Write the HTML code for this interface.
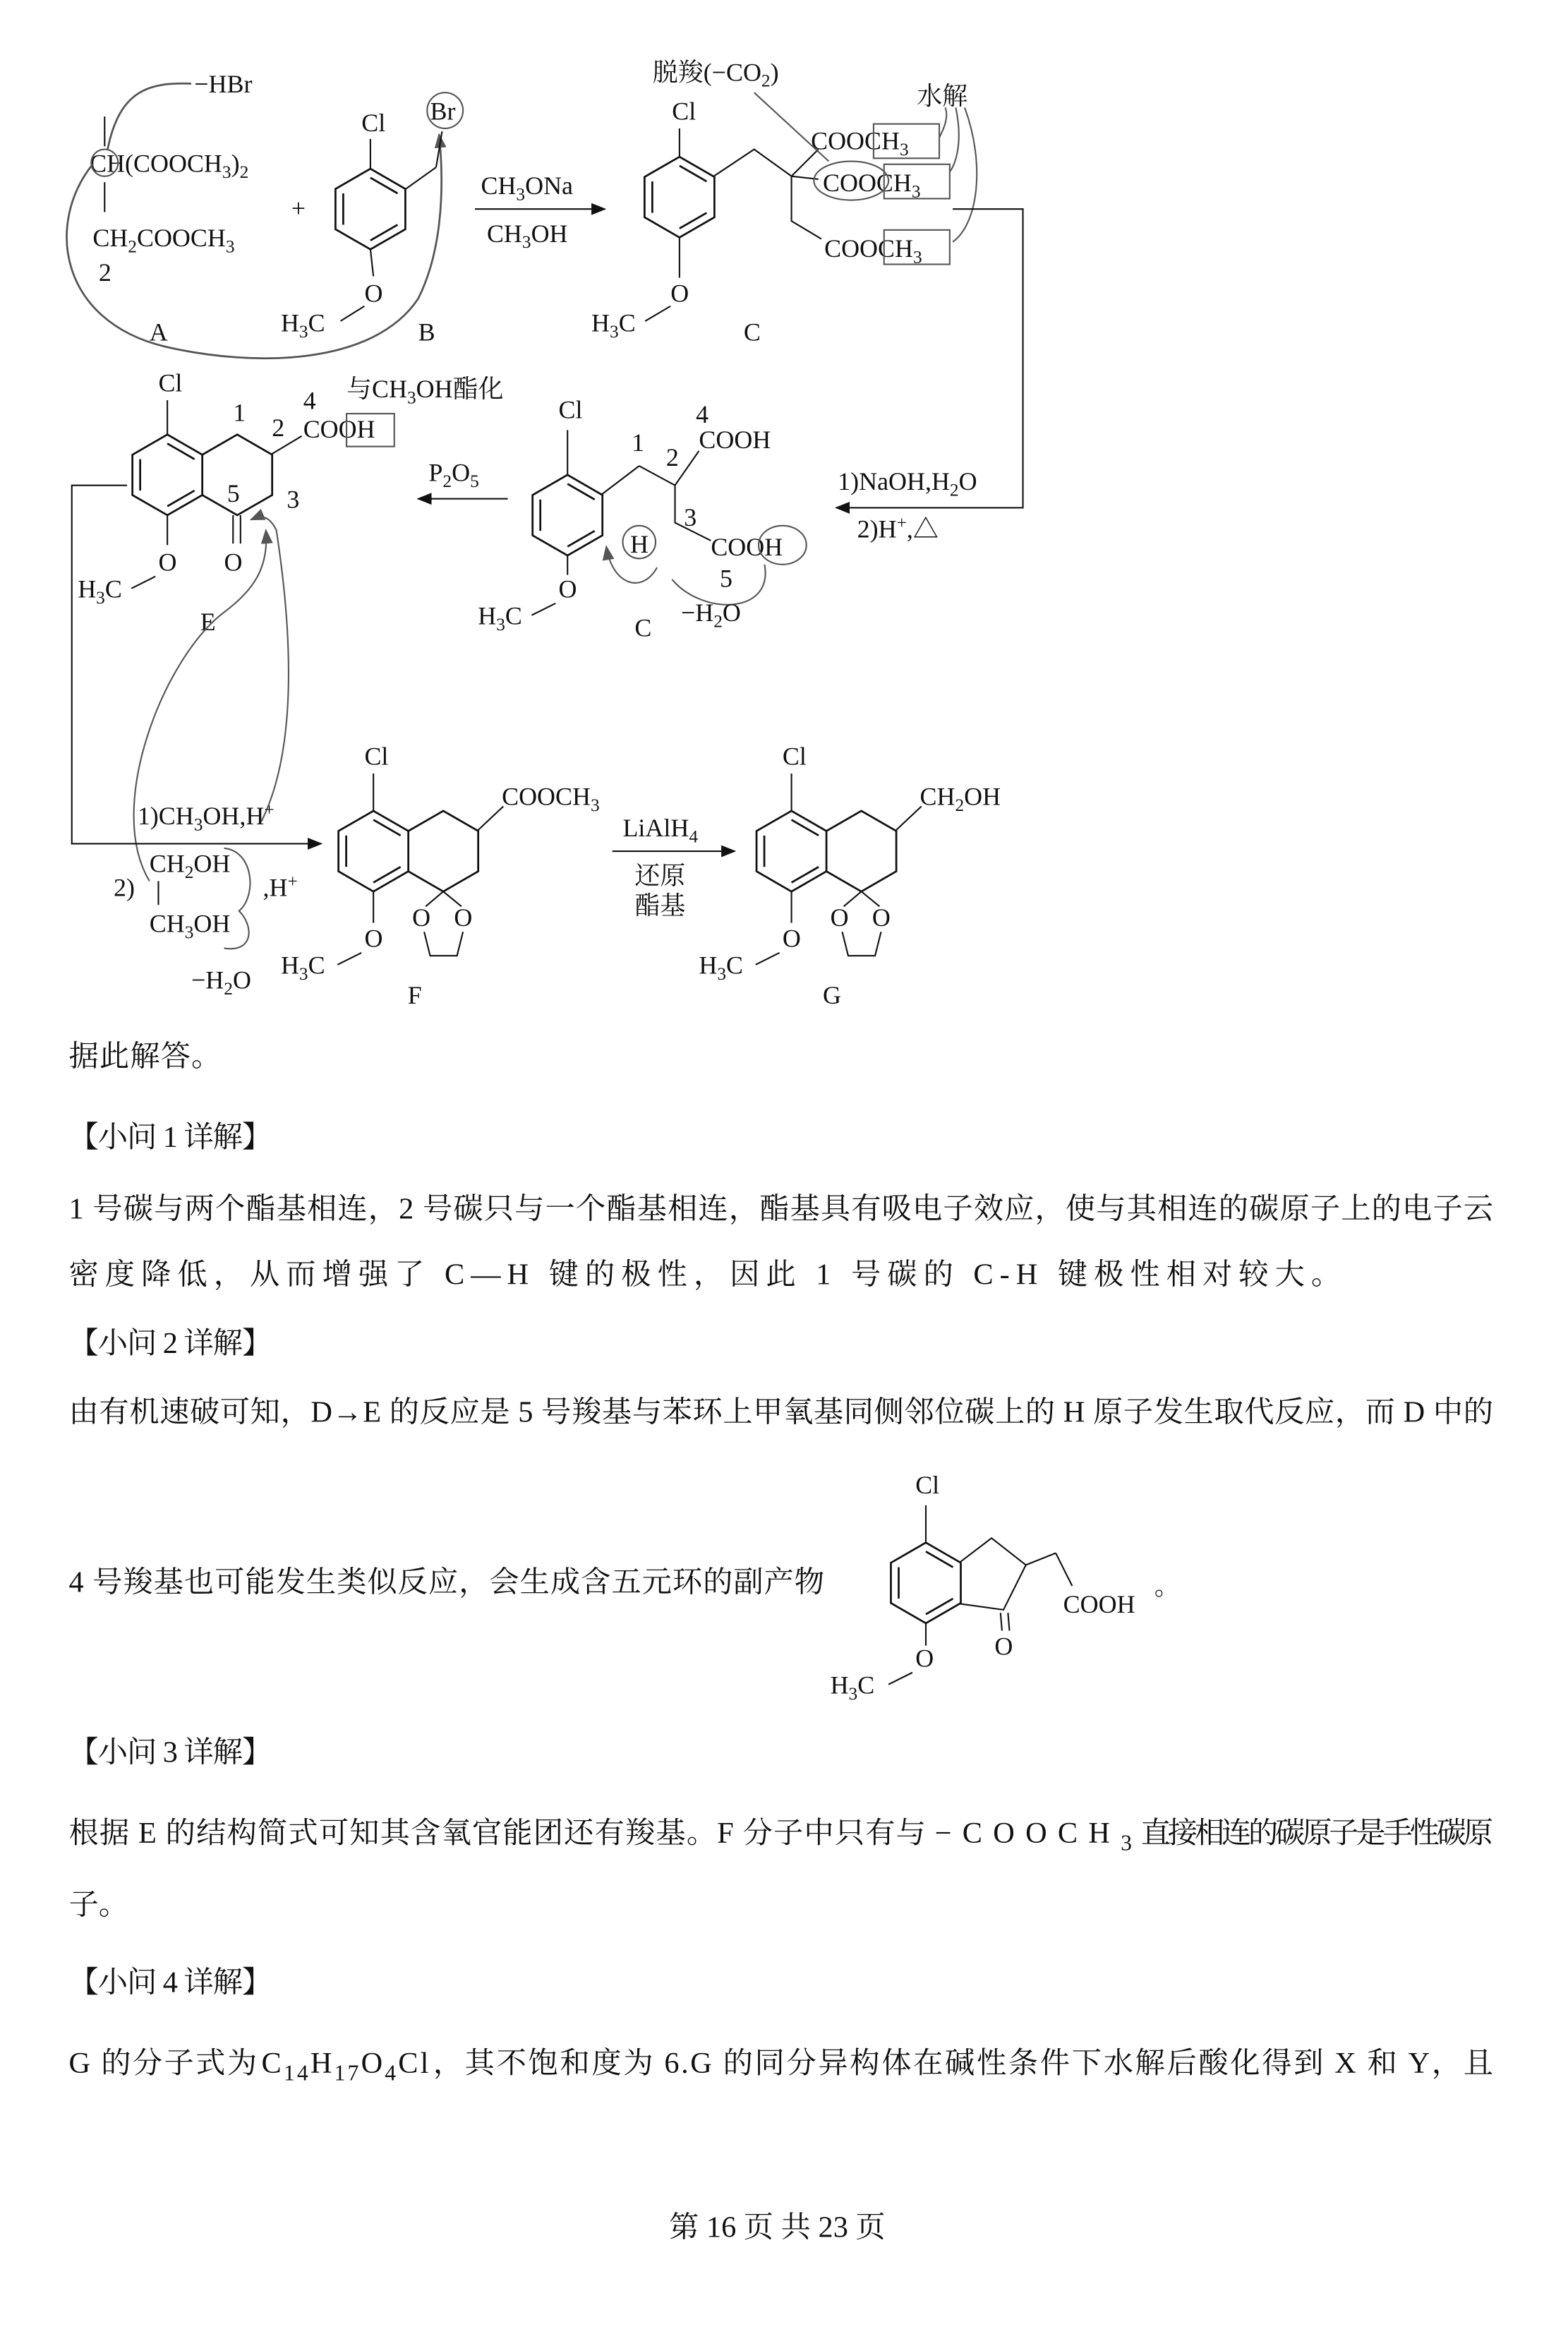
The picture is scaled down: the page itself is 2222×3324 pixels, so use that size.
<!DOCTYPE html>
<html><head><meta charset="utf-8">
<style>
html,body{margin:0;padding:0;background:#fff;}
svg{display:block;}
text{font-family:"Liberation Serif","Noto Serif CJK SC",serif;fill:#111;}
.s text{font-size:17px;}
.p text{font-size:20px;}
</style></head>
<body>
<svg width="2222" height="3324" viewBox="0 0 1050 1571" xmlns="http://www.w3.org/2000/svg">
<defs>
<g id="ring" fill="none" stroke="#111" stroke-width="1.3">
<polygon points="0,-27 23.4,-13.5 23.4,13.5 0,27 -23.4,13.5 -23.4,-13.5"/>
<line x1="0" y1="-21" x2="18.2" y2="-10.5"/>
<line x1="18.2" y1="10.5" x2="0" y2="21"/>
<line x1="-18.2" y1="10.5" x2="-18.2" y2="-10.5"/>
</g>
<g id="ring2" fill="none" stroke="#111" stroke-width="1.3">
<polyline points="-23.4,-13.5 0,-27 23.4,-13.5 23.4,13.5 0,27 -23.4,13.5"/>
</g>
<marker id="ah" markerWidth="10" markerHeight="8" refX="9" refY="4" orient="auto" markerUnits="userSpaceOnUse">
<path d="M0,0 L10,4 L0,8 z" fill="#111"/></marker>
<marker id="ag" markerWidth="10" markerHeight="8" refX="9" refY="4" orient="auto" markerUnits="userSpaceOnUse">
<path d="M0,0 L10,4 L0,8 z" fill="#555"/></marker>
</defs>
<rect width="1050" height="1571" fill="#fff"/>

<g class="s">
<!-- A -->
<text x="130" y="62">−HBr</text>
<line x1="70" y1="78" x2="70" y2="98" stroke="#111"/>
<text x="60" y="115">CH(COOCH<tspan font-size="12" dy="4">3</tspan><tspan dy="-4">)</tspan><tspan font-size="12" dy="4">2</tspan></text>
<circle cx="70" cy="109" r="9" fill="none" stroke="#555"/>
<line x1="70" y1="122" x2="70" y2="142" stroke="#111"/>
<text x="62" y="165">CH<tspan font-size="12" dy="4">2</tspan><tspan dy="-4">COOCH</tspan><tspan font-size="12" dy="4">3</tspan></text>
<text x="66" y="188">2</text>
<text x="100" y="228">A</text>
<path d="M72,100 C80,60 100,55 128,56" fill="none" stroke="#555" stroke-width="1.3"/>
<path d="M62,110 C30,150 40,215 110,232 C170,246 250,245 280,200 C295,170 298,130 294,90" fill="none" stroke="#555" stroke-width="1.3" marker-end="url(#ag)"/>
<text x="195" y="145" font-size="20">+</text>
<!-- B -->
<use href="#ring" x="248" y="140"/>
<text x="242" y="88">Cl</text>
<line x1="248" y1="113" x2="248" y2="93" stroke="#111"/>
<line x1="271" y1="127" x2="292" y2="112" stroke="#111"/>
<line x1="292" y1="112" x2="296" y2="88" stroke="#111"/>
<text x="288" y="80">Br</text>
<circle cx="298" cy="74" r="12" fill="none" stroke="#555"/>
<line x1="248" y1="167" x2="250" y2="185" stroke="#111"/>
<text x="244" y="202">O</text>
<line x1="244" y1="205" x2="228" y2="215" stroke="#111"/>
<text x="188" y="222">H<tspan font-size="12" dy="4">3</tspan><tspan dy="-4">C</tspan></text>
<text x="280" y="228">B</text>
<!-- arrow 1 -->
<line x1="318" y1="140" x2="405" y2="140" stroke="#111" marker-end="url(#ah)"/>
<text x="322" y="130">CH<tspan font-size="12" dy="4">3</tspan><tspan dy="-4">ONa</tspan></text>
<text x="326" y="162">CH<tspan font-size="12" dy="4">3</tspan><tspan dy="-4">OH</tspan></text>
<!-- C -->
<use href="#ring" x="455" y="132"/>
<text x="450" y="80">Cl</text>
<line x1="455" y1="105" x2="455" y2="86" stroke="#111"/>
<text x="437" y="54">脱羧(−CO<tspan font-size="12" dy="4">2</tspan><tspan dy="-4">)</tspan></text>
<text x="614" y="70">水解</text>
<polyline points="478,118 505,100 530,118" fill="none" stroke="#111"/>
<line x1="530" y1="118" x2="548" y2="100" stroke="#111"/>
<line x1="530" y1="118" x2="548" y2="120" stroke="#111"/>
<polyline points="530,118 530,148 550,160" fill="none" stroke="#111"/>
<text x="543" y="100">COOCH<tspan font-size="12" dy="4">3</tspan></text>
<rect x="585" y="83" width="44" height="23" fill="none" stroke="#555"/>
<text x="551" y="128">COOCH<tspan font-size="12" dy="4">3</tspan></text>
<ellipse cx="570" cy="121" rx="25" ry="13" fill="none" stroke="#555"/>
<rect x="592" y="110" width="44" height="23" fill="none" stroke="#555"/>
<text x="552" y="172">COOCH<tspan font-size="12" dy="4">3</tspan></text>
<rect x="592" y="154" width="44" height="23" fill="none" stroke="#555"/>
<line x1="505" y1="62" x2="555" y2="108" stroke="#555"/>
<path d="M633,72 C636,80 630,90 629,92 M640,72 C645,95 640,110 636,115 M646,72 C660,110 655,150 638,162" fill="none" stroke="#555"/>
<line x1="455" y1="159" x2="455" y2="186" stroke="#111"/>
<text x="449" y="202">O</text>
<line x1="449" y1="205" x2="432" y2="215" stroke="#111"/>
<text x="396" y="222">H<tspan font-size="12" dy="4">3</tspan><tspan dy="-4">C</tspan></text>
<text x="498" y="228">C</text>
<polyline points="638,140 685,140 685,340 560,340" fill="none" stroke="#111" marker-end="url(#ah)"/>
<text x="561" y="328">1)NaOH,H<tspan font-size="12" dy="4">2</tspan><tspan dy="-4">O</tspan></text>
<text x="574" y="360">2)H<tspan font-size="12" dy="-6">+</tspan><tspan dy="6">,△</tspan></text>

<!-- D -->
<use href="#ring" x="380" y="345"/>
<text x="374" y="280">Cl</text>
<line x1="380" y1="318" x2="380" y2="288" stroke="#111"/>
<line x1="403" y1="331" x2="428" y2="312" stroke="#111"/>
<polyline points="428,312 452,325 468,302" fill="none" stroke="#111"/>
<polyline points="452,325 452,350 476,362" fill="none" stroke="#111"/>
<text x="468" y="300">COOH</text>
<text x="466" y="283">4</text>
<text x="423" y="302">1</text>
<text x="446" y="312">2</text>
<text x="458" y="352">3</text>
<text x="476" y="372">COOH</text>
<ellipse cx="524" cy="365" rx="16" ry="13" fill="none" stroke="#555"/>
<text x="482" y="393">5</text>
<text x="422" y="370">H</text>
<circle cx="428" cy="363" r="11" fill="none" stroke="#555"/>
<path d="M512,378 C518,412 470,412 450,388" fill="none" stroke="#555"/>
<path d="M440,380 C430,398 410,392 406,366" fill="none" stroke="#555" marker-end="url(#ag)"/>
<text x="456" y="416">−H<tspan font-size="12" dy="4">2</tspan><tspan dy="-4">O</tspan></text>
<line x1="380" y1="372" x2="380" y2="385" stroke="#111"/>
<text x="374" y="400">O</text>
<line x1="372" y1="404" x2="356" y2="412" stroke="#111"/>
<text x="320" y="418">H<tspan font-size="12" dy="4">3</tspan><tspan dy="-4">C</tspan></text>
<text x="425" y="426">C</text>

<!-- P2O5 arrow -->
<line x1="340" y1="334" x2="280" y2="334" stroke="#111" marker-end="url(#ah)"/>
<text x="287" y="322">P<tspan font-size="12" dy="4">2</tspan><tspan dy="-4">O</tspan><tspan font-size="12" dy="4">5</tspan></text>

<!-- E -->
<use href="#ring" x="112" y="318"/>
<use href="#ring2" x="158.8" y="318"/>
<text x="106" y="262">Cl</text>
<line x1="112" y1="291" x2="112" y2="268" stroke="#111"/>
<text x="156" y="282">1</text>
<text x="182" y="292">2</text>
<text x="203" y="274">4</text>
<line x1="182" y1="304" x2="202" y2="292" stroke="#111"/>
<text x="203" y="293">COOH</text>
<rect x="232" y="277" width="32" height="22" fill="none" stroke="#555"/>
<text x="232" y="266">与CH<tspan font-size="12" dy="4">3</tspan><tspan dy="-4">OH酯化</tspan></text>
<text x="152" y="336">5</text>
<text x="192" y="340">3</text>
<line x1="156" y1="345" x2="156" y2="364" stroke="#111"/>
<line x1="161" y1="345" x2="161" y2="364" stroke="#111"/>
<text x="150" y="382">O</text>
<line x1="112" y1="345" x2="112" y2="365" stroke="#111"/>
<text x="106" y="382">O</text>
<line x1="104" y1="386" x2="88" y2="394" stroke="#111"/>
<text x="52" y="400">H<tspan font-size="12" dy="4">3</tspan><tspan dy="-4">C</tspan></text>
<text x="134" y="422">E</text>
<path d="M100,590 C70,540 110,440 150,410 C170,395 180,380 178,355" fill="none" stroke="#555" marker-end="url(#ag)"/>
<path d="M175,550 C200,500 195,420 185,355 C180,345 175,345 168,348" fill="none" stroke="#555" marker-end="url(#ag)"/>
<polyline points="85,325 48,325 48,565 215,565" fill="none" stroke="#111" marker-end="url(#ah)"/>
<text x="92" y="552">1)CH<tspan font-size="12" dy="4">3</tspan><tspan dy="-4">OH,H</tspan><tspan font-size="12" dy="-6">+</tspan></text>
<text x="76" y="600">2)</text>
<text x="100" y="584">CH<tspan font-size="12" dy="4">2</tspan><tspan dy="-4">OH</tspan></text>
<line x1="106" y1="590" x2="106" y2="606" stroke="#111"/>
<text x="100" y="624">CH<tspan font-size="12" dy="4">3</tspan><tspan dy="-4">OH</tspan></text>
<path d="M150,568 C170,570 172,600 160,610 C170,620 170,638 150,635" fill="none" stroke="#555"/>
<text x="176" y="600">,H<tspan font-size="12" dy="-6">+</tspan></text>
<text x="128" y="662">−H<tspan font-size="12" dy="4">2</tspan><tspan dy="-4">O</tspan></text>

<!-- F -->
<use href="#ring" x="250" y="570"/>
<use href="#ring2" x="296.8" y="570"/>
<text x="244" y="512">Cl</text>
<line x1="250" y1="543" x2="250" y2="518" stroke="#111"/>
<line x1="320" y1="556" x2="337" y2="540" stroke="#111"/>
<text x="336" y="539">COOCH<tspan font-size="12" dy="4">3</tspan></text>
<line x1="296.8" y1="597" x2="285" y2="607" stroke="#111"/>
<line x1="296.8" y1="597" x2="309" y2="607" stroke="#111"/>
<text x="276" y="620">O</text><text x="304" y="620">O</text>
<polyline points="284,624 288,640 306,640 310,624" fill="none" stroke="#111"/>
<line x1="250" y1="597" x2="250" y2="618" stroke="#111"/>
<text x="244" y="634">O</text>
<line x1="242" y1="638" x2="226" y2="646" stroke="#111"/>
<text x="188" y="652">H<tspan font-size="12" dy="4">3</tspan><tspan dy="-4">C</tspan></text>
<text x="273" y="672">F</text>

<!-- LiAlH4 -->
<line x1="410" y1="570" x2="492" y2="570" stroke="#111" marker-end="url(#ah)"/>
<text x="417" y="560">LiAlH<tspan font-size="12" dy="4">4</tspan></text>
<text x="425" y="592">还原</text>
<text x="425" y="612">酯基</text>

<!-- G -->
<use href="#ring" x="530" y="570"/>
<use href="#ring2" x="576.8" y="570"/>
<text x="524" y="512">Cl</text>
<line x1="530" y1="543" x2="530" y2="518" stroke="#111"/>
<line x1="600" y1="556" x2="617" y2="540" stroke="#111"/>
<text x="616" y="539">CH<tspan font-size="12" dy="4">2</tspan><tspan dy="-4">OH</tspan></text>
<line x1="576.8" y1="597" x2="565" y2="607" stroke="#111"/>
<line x1="576.8" y1="597" x2="589" y2="607" stroke="#111"/>
<text x="556" y="620">O</text><text x="584" y="620">O</text>
<polyline points="564,624 568,640 586,640 590,624" fill="none" stroke="#111"/>
<line x1="530" y1="597" x2="530" y2="618" stroke="#111"/>
<text x="524" y="634">O</text>
<line x1="522" y1="638" x2="506" y2="646" stroke="#111"/>
<text x="468" y="652">H<tspan font-size="12" dy="4">3</tspan><tspan dy="-4">C</tspan></text>
<text x="551" y="672">G</text>

<!-- inline indanone structure -->
<use href="#ring" x="620" y="1060"/>
<text x="613" y="1000">Cl</text>
<line x1="620" y1="1033" x2="620" y2="1008" stroke="#111"/>
<polyline points="643,1046 664,1030 687,1048 672,1078 643,1074" fill="none" stroke="#111"/>
<line x1="670" y1="1080" x2="671" y2="1092" stroke="#111"/>
<line x1="675" y1="1080" x2="676" y2="1092" stroke="#111"/>
<text x="666" y="1108">O</text>
<line x1="687" y1="1048" x2="707" y2="1040" stroke="#111"/>
<line x1="707" y1="1040" x2="718" y2="1062" stroke="#111"/>
<text x="712" y="1080">COOH</text>
<text x="773" y="1068" font-size="12">。</text>
<line x1="620" y1="1087" x2="620" y2="1102" stroke="#111"/>
<text x="613" y="1116">O</text>
<line x1="611" y1="1120" x2="595" y2="1128" stroke="#111"/>
<text x="556" y="1134">H<tspan font-size="12" dy="4">3</tspan><tspan dy="-4">C</tspan></text>
</g>

<g class="p">
<text x="46" y="714" textLength="102">据此解答。</text>
<text x="46" y="768" textLength="136">【小问 1 详解】</text>
<text x="46" y="816" textLength="954">1 号碳与两个酯基相连，2 号碳只与一个酯基相连，酯基具有吸电子效应，使与其相连的碳原子上的电子云</text>
<text x="46" y="860" textLength="852">密度降低，从而增强了 C—H 键的极性，因此 1 号碳的 C-H 键极性相对较大。</text>
<text x="46" y="906" textLength="136">【小问 2 详解】</text>
<text x="46" y="952" textLength="954">由有机速破可知，D→E 的反应是 5 号羧基与苯环上甲氧基同侧邻位碳上的 H 原子发生取代反应，而 D 中的</text>
<text x="46" y="1066" textLength="506">4 号羧基也可能发生类似反应，会生成含五元环的副产物</text>
<text x="46" y="1180" textLength="136">【小问 3 详解】</text>
<text x="46" y="1234" textLength="574">根据 E 的结构简式可知其含氧官能团还有羧基。F 分子中只有与</text>
<text x="626" y="1234" font-size="24" textLength="132">−COOCH<tspan font-size="15" dy="5">3</tspan></text>
<text x="764" y="1234" textLength="236">直接相连的碳原子是手性碳原</text>
<text x="46" y="1282">子。</text>
<text x="46" y="1334" textLength="136">【小问 4 详解】</text>
<text x="46" y="1388" textLength="126">G 的分子式为</text>
<text x="175" y="1388" font-size="24" textLength="112">C<tspan font-size="15" dy="5">14</tspan><tspan dy="-5">H</tspan><tspan font-size="15" dy="5">17</tspan><tspan dy="-5">O</tspan><tspan font-size="15" dy="5">4</tspan><tspan dy="-5">Cl</tspan></text>
<text x="290" y="1388" textLength="710">，其不饱和度为 6.G 的同分异构体在碱性条件下水解后酸化得到 X 和 Y，且</text>
<text x="448" y="1498" font-size="17">第 16 页 共 23 页</text>
</g>
</svg>
</body></html>
